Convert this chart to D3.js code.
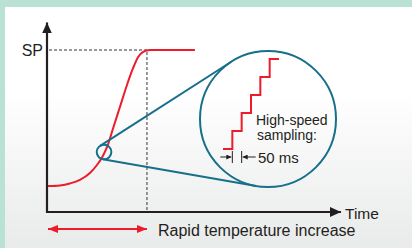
<!DOCTYPE html>
<html>
<head>
<meta charset="utf-8">
<script src="https://cdn.jsdelivr.net/npm/d3@7"></script>
<style>
  html, body { margin: 0; padding: 0; background: #b9e2d4; }
  svg { display: block; }
  text { font-family: "Liberation Sans", Arial, Helvetica, sans-serif; fill: #231f20; }
</style>
</head>
<body>
<script>
const width  = 412;
const height = 248;

// temperature curve (time %, temperature % of SP)
const curveTime = [0.3, 4.4, 7.8, 11.2, 14.6, 17.0, 19.0, 20.7, 22.4, 24.8, 27.2, 29.3, 31.0, 32.7, 35.0, 50.3];
const curveTemp = [16.0, 16.4, 17.6, 19.8, 24.1, 29.0, 34.6, 41.4, 51.2, 64.8, 78.4, 88.9, 95.7, 98.8, 100, 100];

const setPoint   = 100;   // SP
const riseEnd    = 34;    // time where SP is reached
const zoomPoint  = [19.4, 37.0];

// sampled staircase in the magnifier (ms, level)
const sampleTimes  = [-50, 0, 50, 100, 150, 200];
const sampleLevels = [0, 1, 2, 3, 4, 5];
const sampleEnd    = 250;
const samplePeriod = 50;

const labels = {
  sp: 'SP',
  time: 'Time',
  rapid: 'Rapid temperature increase',
  hs1: 'High-speed',
  hs2: 'sampling:',
  ms: '50 ms'
};

const red  = '#ec1c2a';
const blue = '#16708a';
const ink  = '#231f20';

const svg = d3.select('body').append('svg')
      .attr('width', width)
      .attr('height', height);

const defs = svg.append('defs');
const grad = defs.append('linearGradient')
      .attr('id', 'bg').attr('x1', 0).attr('y1', 0).attr('x2', 0).attr('y2', 1);
grad.append('stop').attr('offset', '0%').attr('stop-color', '#ffffff');
grad.append('stop').attr('offset', '35%').attr('stop-color', '#ffffff');
grad.append('stop').attr('offset', '100%').attr('stop-color', '#e9eaea');

const marker = function(id, color, w, h) {
  defs.append('marker')
    .attr('id', id)
    .attr('viewBox', `0 0 ${w} ${h}`)
    .attr('refX', w).attr('refY', h / 2)
    .attr('markerWidth', w).attr('markerHeight', h)
    .attr('markerUnits', 'userSpaceOnUse')
    .attr('orient', 'auto-start-reverse')
    .append('path')
    .attr('d', `M0,0L${w},${h / 2}L0,${h}Z`)
    .attr('fill', color);
};
marker('axArrow', ink, 11, 10);
marker('redArrow', red, 10, 8);
marker('smallArrow', ink, 5, 5);

// green frame + panel
svg.append('rect').attr('width', width).attr('height', height).attr('fill', '#b9e2d4');
svg.append('rect').attr('x', 5).attr('y', 7).attr('width', width - 5).attr('height', height - 7)
  .attr('fill', 'url(#bg)');

const x = d3.scaleLinear().domain([0, 100]).range([47, 341]);
const y = d3.scaleLinear().domain([0, 100]).range([212, 50]);
const yTop = 117;

// dashed guides
svg.append('path')
  .attr('d', `M${x(0) + 2},${y(setPoint)}H${x(riseEnd)}V${y(0)}`)
  .attr('fill', 'none').attr('stroke', '#333').attr('stroke-width', 1)
  .attr('stroke-dasharray', '3,2');

// axes
svg.append('line')
  .attr('x1', x(0)).attr('y1', y(0) + 1).attr('x2', x(0)).attr('y2', y(yTop))
  .attr('stroke', ink).attr('stroke-width', 2.2).attr('marker-end', 'url(#axArrow)');
svg.append('line')
  .attr('x1', x(0) - 1).attr('y1', y(0)).attr('x2', x(100)).attr('y2', y(0))
  .attr('stroke', ink).attr('stroke-width', 2.2).attr('marker-end', 'url(#axArrow)');

svg.append('text').attr('x', x(0) - 4).attr('y', y(setPoint) + 6)
  .attr('text-anchor', 'end').attr('font-size', 16).text(labels.sp);
svg.append('text').attr('x', x(100) + 4).attr('y', y(0) + 7)
  .attr('font-size', 15.5).text(labels.time);

// red curve
const pts = curveTime.map((t, i) => [t, curveTemp[i]]);
svg.append('path').datum(pts)
  .attr('d', d3.line().x(d => x(d[0])).y(d => y(d[1])).curve(d3.curveMonotoneX))
  .attr('fill', 'none').attr('stroke', red).attr('stroke-width', 2);

// magnifier
const c1 = {x: x(zoomPoint[0]), y: y(zoomPoint[1]), r: 7.3};
const c2 = {x: 268, y: 119, r: 68};
const dx = c2.x - c1.x, dy = c2.y - c1.y;
const d = Math.hypot(dx, dy);
const base = Math.atan2(dy, dx);
const th = Math.acos((c1.r - c2.r) / d);
[base + th, base - th].forEach(a => {
  const nx = Math.cos(a), ny = Math.sin(a);
  svg.append('line')
    .attr('x1', c1.x + c1.r * nx).attr('y1', c1.y + c1.r * ny)
    .attr('x2', c2.x + c2.r * nx).attr('y2', c2.y + c2.r * ny)
    .attr('stroke', blue).attr('stroke-width', 2);
});
svg.append('circle').attr('cx', c1.x).attr('cy', c1.y).attr('r', c1.r)
  .attr('fill', 'none').attr('stroke', blue).attr('stroke-width', 2);
svg.append('circle').attr('cx', c2.x).attr('cy', c2.y).attr('r', c2.r)
  .attr('fill', 'none').attr('stroke', blue).attr('stroke-width', 2);

// staircase
const sx = d3.scaleLinear().domain([-50, sampleEnd]).range([223, 279]);
const sy = d3.scaleLinear().domain([0, 5]).range([149, 59]);
const steps = sampleTimes.map((t, i) => [t, sampleLevels[i]]);
steps.push([sampleEnd, sampleLevels[sampleLevels.length - 1]]);
svg.append('path').datum(steps)
  .attr('d', d3.line().x(p => sx(p[0])).y(p => sy(p[1])).curve(d3.curveStepAfter))
  .attr('fill', 'none').attr('stroke', red).attr('stroke-width', 2);

svg.append('text').attr('x', 256).attr('y', 125).attr('font-size', 14).text(labels.hs1);
svg.append('text').attr('x', 257).attr('y', 140).attr('font-size', 14).text(labels.hs2);

// 50 ms interval marker
const mY = 157;
[0, samplePeriod].forEach(t => {
  svg.append('line').attr('x1', sx(t)).attr('x2', sx(t)).attr('y1', mY - 6).attr('y2', mY + 6)
    .attr('stroke', ink).attr('stroke-width', 1);
});
svg.append('line').attr('x1', sx(0) - 12).attr('x2', sx(0) - 1).attr('y1', mY).attr('y2', mY)
  .attr('stroke', ink).attr('stroke-width', 1).attr('marker-end', 'url(#smallArrow)');
svg.append('line').attr('x1', sx(samplePeriod) + 14).attr('x2', sx(samplePeriod) + 1).attr('y1', mY).attr('y2', mY)
  .attr('stroke', ink).attr('stroke-width', 1).attr('marker-end', 'url(#smallArrow)');
svg.append('text').attr('x', 258).attr('y', 163).attr('font-size', 15).text(labels.ms);

// rapid increase span
svg.append('line')
  .attr('x1', x(0) + 1).attr('x2', x(riseEnd)).attr('y1', 229).attr('y2', 229)
  .attr('stroke', red).attr('stroke-width', 2)
  .attr('marker-start', 'url(#redArrow)').attr('marker-end', 'url(#redArrow)');
svg.append('text').attr('x', 158).attr('y', 236).attr('font-size', 16).text(labels.rapid);
</script>
</body>
</html>
